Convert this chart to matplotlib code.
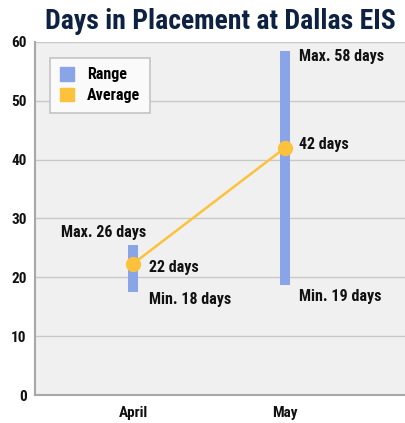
import matplotlib
matplotlib.use('Agg')
import matplotlib.pyplot as plt
from matplotlib.patches import Patch

plt.rcParams['font.family'] = ['Roboto Condensed', 'DejaVu Sans']
plt.rcParams['font.weight'] = 'bold'

months = ['April', 'May']
range_low = [17.5, 18.7]
range_high = [25.5, 58.5]
average = [22.3, 42.0]
max_labels = ['Max. 26 days', 'Max. 58 days']
min_labels = ['Min. 18 days', 'Min. 19 days']
avg_labels = ['22 days', '42 days']
yticks = [0, 10, 20, 30, 40, 50, 60]

range_color = '#8aa4e8'
avg_color = '#fcc23c'
text_color = '#111111'

fig = plt.figure(figsize=(4.05, 4.23), dpi=100)
ax = fig.add_axes([0.0864, 0.066, 0.94, 0.835])
ax.set_facecolor('#f0f0f0')

x = list(range(len(months)))
ax.bar(x, [h - l for h, l in zip(range_high, range_low)], bottom=range_low,
       width=0.066, color=range_color, zorder=3)
ax.plot(x, average, color=avg_color, lw=1.8, marker='o', markersize=10,
        zorder=4)

# annotations (April labels sit a bit further right than May ones)
fs = 11.5
ax.text(x[0] + 0.09, 27.7, max_labels[0], ha='right', va='center',
        fontsize=fs, color=text_color, zorder=5)
ax.text(x[0] + 0.105, average[0] - 0.7, avg_labels[0], ha='left', va='center',
        fontsize=fs, color=text_color, zorder=5)
ax.text(x[0] + 0.105, range_low[0] - 1.3, min_labels[0], ha='left', va='center',
        fontsize=fs, color=text_color, zorder=5)
ax.text(x[1] + 0.092, range_high[1] - 0.9, max_labels[1], ha='left', va='center',
        fontsize=fs, color=text_color, zorder=5)
ax.text(x[1] + 0.092, average[1] + 0.5, avg_labels[1], ha='left', va='center',
        fontsize=fs, color=text_color, zorder=5)
ax.text(x[1] + 0.092, range_low[1] - 2.0, min_labels[1], ha='left', va='center',
        fontsize=fs, color=text_color, zorder=5)

ax.set_xlim(-0.645, 1.86)
ax.set_ylim(0, 60)
ax.set_yticks(yticks)
ax.set_xticks(x)
ax.set_xticklabels(months)
ax.grid(axis='y', color='#c8c8c8', lw=1, zorder=0)
ax.tick_params(axis='both', length=0, labelsize=11, colors=text_color)
ax.tick_params(axis='x', pad=8)
ax.tick_params(axis='y', pad=6)
for s in ['top', 'right']:
    ax.spines[s].set_visible(False)
for s in ['left', 'bottom']:
    ax.spines[s].set_color('#a8a8a8')
    ax.spines[s].set_linewidth(1.5)

handles = [Patch(color=range_color, label='Range'),
           Patch(color=avg_color, label='Average')]
leg = ax.legend(handles=handles, loc='upper left', bbox_to_anchor=(0.04, 0.955),
                fontsize=11.5, frameon=True, fancybox=False, handlelength=0.9,
                handleheight=0.9, handletextpad=0.8, borderpad=0.6,
                labelspacing=0.35, borderaxespad=0)
leg.get_frame().set_edgecolor('#c4c4c4')
leg.get_frame().set_facecolor('#fafafa')
leg.get_frame().set_linewidth(1.2)
leg.get_frame().set_alpha(1)

fig.text(0.545, 0.948, 'Days in Placement at Dallas EIS', ha='center', va='center',
         fontsize=20, color='#0d2142', fontweight='bold')

fig.savefig('out.png', dpi=100)
